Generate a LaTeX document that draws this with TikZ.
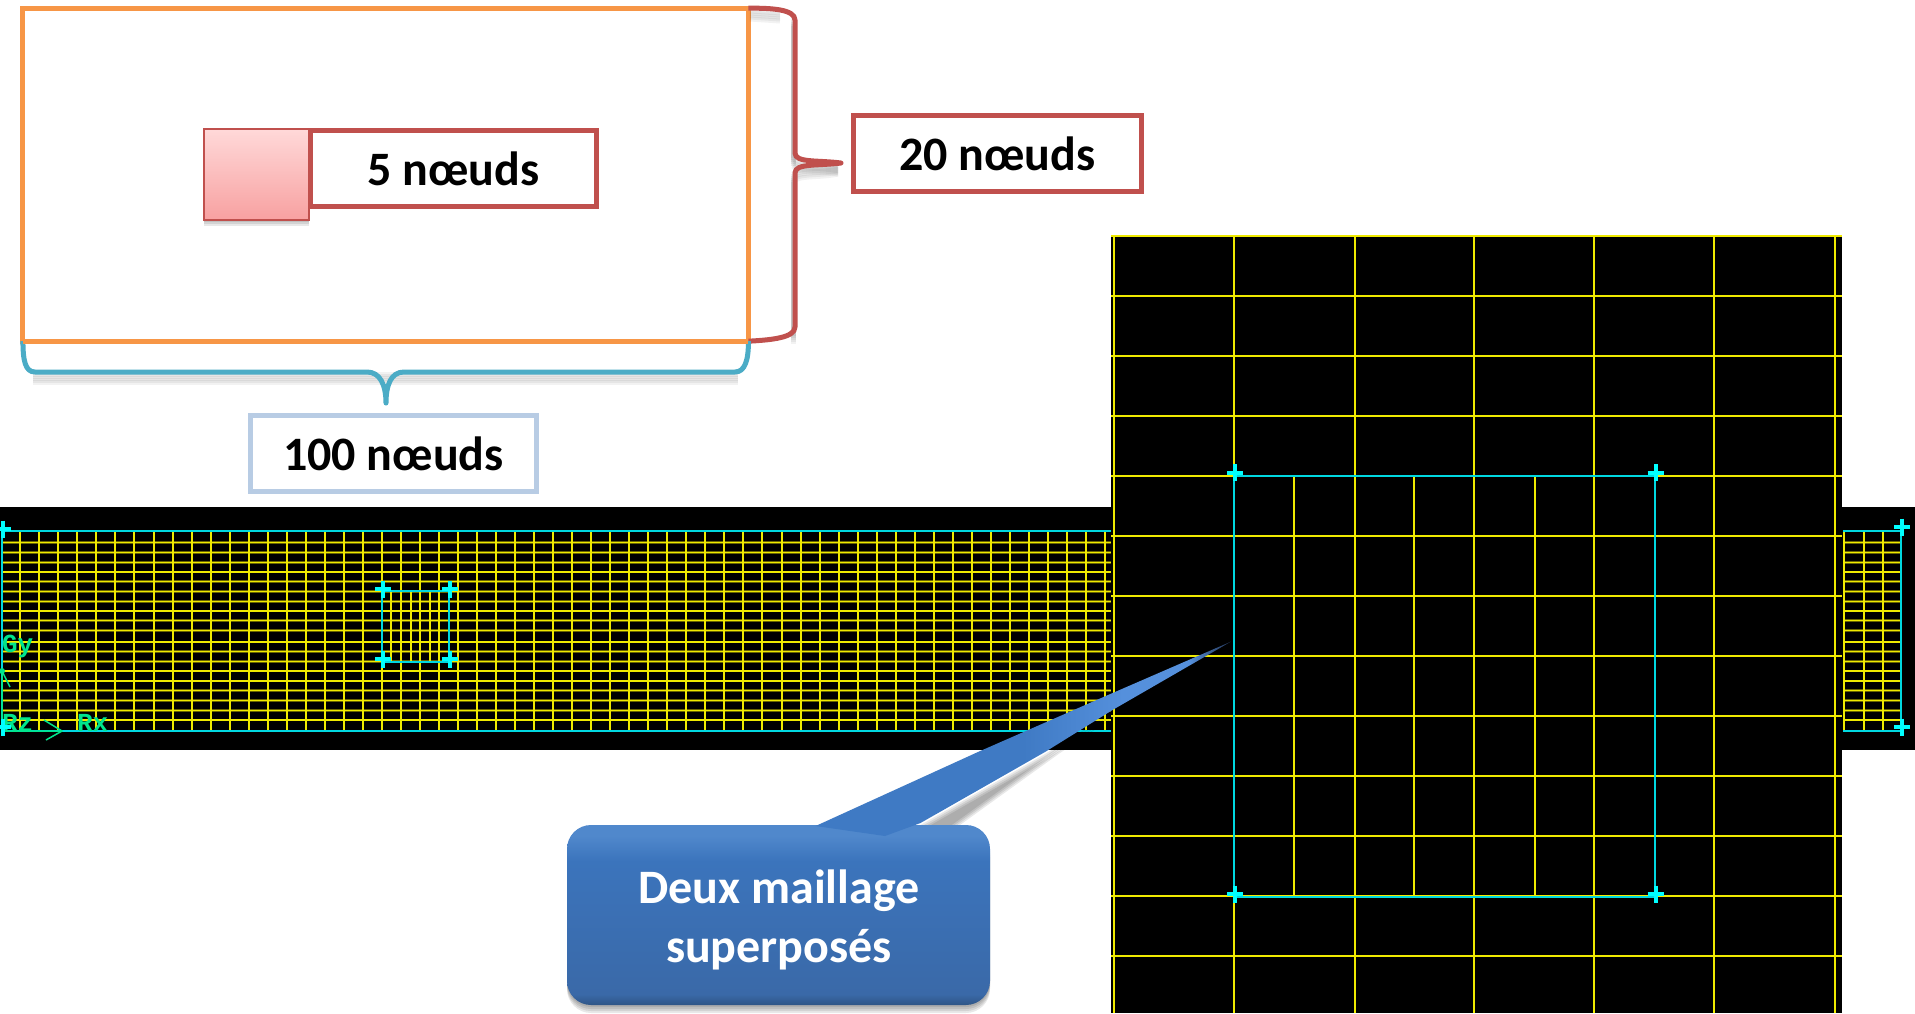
\documentclass[tikz,border=0pt]{standalone}
\usepackage{fontspec}
\setmainfont{Carlito}
\newfontfamily\meshfont{Liberation Mono}
\definecolor{meshyellow}{HTML}{EFEA00}
\definecolor{meshhalo}{HTML}{6A6600}
\definecolor{meshcyan}{HTML}{00D8E0}
\definecolor{crosscyan}{HTML}{00FFFF}
\definecolor{axisgreen}{HTML}{00E58C}
\definecolor{frameorange}{HTML}{F79646}
\definecolor{boxred}{HTML}{C0504D}
\definecolor{bracecyan}{HTML}{4BACC6}
\definecolor{boxblue}{HTML}{B8CCE4}
\definecolor{tailA}{HTML}{3F7AC4}
\definecolor{tailB}{HTML}{5590DC}
\definecolor{tailC}{HTML}{20304F}
\definecolor{bodyA}{HTML}{5088CC}
\definecolor{bodyB}{HTML}{3B74BC}
\definecolor{bodyC}{HTML}{3A69A8}
\definecolor{bodyD}{HTML}{2F5586}
\pgfdeclarehorizontalshading{tailshade}{100bp}{color(0bp)=(tailA); color(25bp)=(tailA); color(50bp)=(tailA); color(62bp)=(tailB); color(70bp)=(tailB); color(75bp)=(tailC); color(100bp)=(tailC)}
\pgfdeclareverticalshading{bodyshade}{100bp}{color(0bp)=(bodyD); color(25bp)=(bodyD); color(28bp)=(bodyC); color(65bp)=(bodyB); color(72bp)=(bodyA); color(75bp)=(bodyA); color(100bp)=(bodyA)}
\tikzset{
  x=1pt,y=-1pt,
  fine/.style={line width=2pt,meshyellow},
  thinfine/.style={line width=1.5pt,meshyellow},
  halo/.style={line width=2.6pt,meshhalo},
  crispline/.style={line width=2pt,meshcyan},
  axisline/.style={line width=1.5pt,axisgreen},
  axislabel/.style={font=\meshfont\bfseries\fontsize{26}{26}\selectfont,text=axisgreen,inner sep=0pt,outer sep=0pt},
  crossmark/.pic={\draw[line width=4pt,crosscyan] (-8,0)--(8,0) (0,-8.5)--(0,8.5);},
  tagbox/.style={draw,line width=5pt,fill=white,inner sep=0pt,outer sep=0pt,minimum height=76pt,align=center,
    font=\bfseries\fontsize{48}{48}\selectfont,text height=34pt,text depth=0pt},
  shadowstroke/.style={line width=5pt,black,opacity=0.05},
}
\begin{document}
\begin{tikzpicture}
\useasboundingbox (0,0) rectangle (1915,1013);
\fill[white] (0,0) rectangle (1915,1013);
% black backgrounds
\fill[black] (0,507) rectangle (1915,750);
\fill[black] (1111,236) rectangle (1842,1013);
% band mesh
\foreach \v in {128,158,187,216,245,275,304,333,362,391,426,455,485,513,543,572,601,631,660}{
  \draw[halo] (2,500+\v/3) -- (1111,500+\v/3);
  \draw[thinfine] (2,500+\v/3) -- (1111,500+\v/3);
  \draw[halo] (1843,500+\v/3) -- (1901,500+\v/3);
  \draw[thinfine] (1843,500+\v/3) -- (1901,500+\v/3);
}
\foreach \k in {0,...,57}{
  \draw[fine] (20.3+19.03*\k,531) -- (20.3+19.03*\k,731);
}
\foreach \x in {1843.7,1864.3,1882.7}{\draw[fine] (\x,531) -- (\x,731);}
\foreach \x in {390.7,411,430}{\draw[fine] (\x,591) -- (\x,661.7);}
% band outline
\draw[crispline] (1111,531.3) -- (2,531.3) -- (2,731.3) -- (1111,731.3);
\draw[crispline] (1843,531.3) -- (1901,531.3) -- (1901,731.3) -- (1843,731.3);
\draw[crispline] (381.7,591) rectangle (449,661.7);
% axes
\draw[axisline] (2,731) -- (62,731) (44,720) -- (62,731) -- (46,740);
\draw[axisline] (2,731) -- (2,671) -- (10,687);
\fill[axisgreen] (2,671) circle (3pt);
\node[axislabel,anchor=base west] (gy) at (2,652) {Gy};
\node[axislabel,anchor=base west] (rz) at (2,731) {Rz};
\node[axislabel,anchor=base west] (rx) at (77,731) {Rx};
% tall mesh
\foreach \k in {0,...,12}{\draw[line width=2pt,meshyellow] (1111,235.7+60.05*\k) -- (1842,235.7+60.05*\k);}
\foreach \x in {1114,1234,1354.7,1474.2,1594.3,1714.3,1835}{\draw[line width=2pt,meshyellow] (\x,236) -- (\x,1013);}
\foreach \x in {1294.4,1414.4,1534.5}{\draw[line width=2pt,meshyellow] (\x,476.4) -- (\x,896.8);}
\draw[crispline] (1234,476.4) rectangle (1654.6,896.8);
% cross marks
\foreach \x/\y in {3/529,3/727,383/589,449.5/589,383/659,449.5/659,1902/527,1902/727,1235/472.5,1655.5/472.5,1235/894,1655.5/894}{
  \pic at (\x,\y) {crossmark};
}
% top frame and pink square
\foreach \d in {2,4,6}{\fill[black,opacity=0.09] (204,131+\d) rectangle (309,220+\d);}
\node[draw=frameorange,line width=5pt,inner sep=0pt,outer sep=0pt,minimum width=725.5pt,minimum height=333pt] (frame) at (385.7,174.7) {};
\node[draw=boxred,line width=1.4pt,top color=white!85!red,bottom color=red!35!white!97!black,inner sep=0pt,outer sep=0pt,minimum width=105pt,minimum height=91pt] (pink) at (256.5,174.5) {};
\node[tagbox,draw=boxred,minimum width=286pt] (five) at (453.3,168.3) {5 nœuds};
\node[tagbox,draw=boxred,minimum width=288pt] (twenty) at (997.3,153.3) {20 nœuds};
\node[tagbox,draw=boxblue,minimum width=286pt] (hundred) at (393.4,453.3) {100 nœuds};
% brace shadows
\foreach \d in {3,5,7,9,11}{
  \draw[shadowstroke] (793,15+\d) -- (793,155+\d) (793,171+\d) -- (793,333+\d);
  \draw[shadowstroke] (793,155+\d) .. controls (797,162+\d) and (820,159+\d) .. (838,163+\d);
  \draw[shadowstroke] (793,171+\d) .. controls (797,164+\d) and (820,167+\d) .. (838,163+\d);
  \draw[shadowstroke] (33,371+\d) -- (737.5,371+\d);
  \draw[shadowstroke] (750,8+\d) -- (780,10+\d);
}
% braces
\draw[boxred,line width=5pt,line join=round] (frame.north east) .. controls (770,8) and (795,9) .. (795,20) -- (795,153)
  .. controls (795,163) and (818,160) .. (841,163)
  .. controls (818,166) and (795,163) .. (795,173) -- (795,327)
  .. controls (795,338) and (770,340) .. (frame.south east);
\draw[bracecyan,line width=5pt,line join=round] (frame.south west) .. controls (23,360) and (25,372) .. (35,372) -- (367,372)
  .. controls (380,372) and (386,385) .. (386,403)
  .. controls (386,385) and (391,372) .. (404,372) -- (735,372)
  .. controls (745,372) and (748.5,360) .. (frame.south east);
\draw[frameorange,line width=5pt] (frame.south west) -- (frame.south east);
% callout shadow
\foreach \d in {2,4,6,8}{
  \fill[black,opacity=0.09,rounded corners=24pt] (567,825+\d) rectangle (990,1005+\d);
  \fill[black,opacity=0.09] (920.5,823+\d) -- (1045.5,751.7+\d) -- (1112.5,710+\d) -- (1060,745+\d) -- (935,835+\d) -- cycle;
}
% callout
\shade[shading=bodyshade,rounded corners=24pt] (567,825) rectangle (990,1005);
\shade[shading=tailshade] (815.6,826) -- (978.6,751.7) -- (1108,695) -- (1230.8,641.7) -- (1112.5,710) -- (1045.5,751.7) -- (920.5,823) -- (885,836) -- cycle;
\node[text=white,font=\bfseries\fontsize{48}{58.5}\selectfont,align=center,inner sep=0pt,outer sep=0pt] (callout) at (779,920) {Deux maillage\\superposés};
\end{tikzpicture}
\end{document}
